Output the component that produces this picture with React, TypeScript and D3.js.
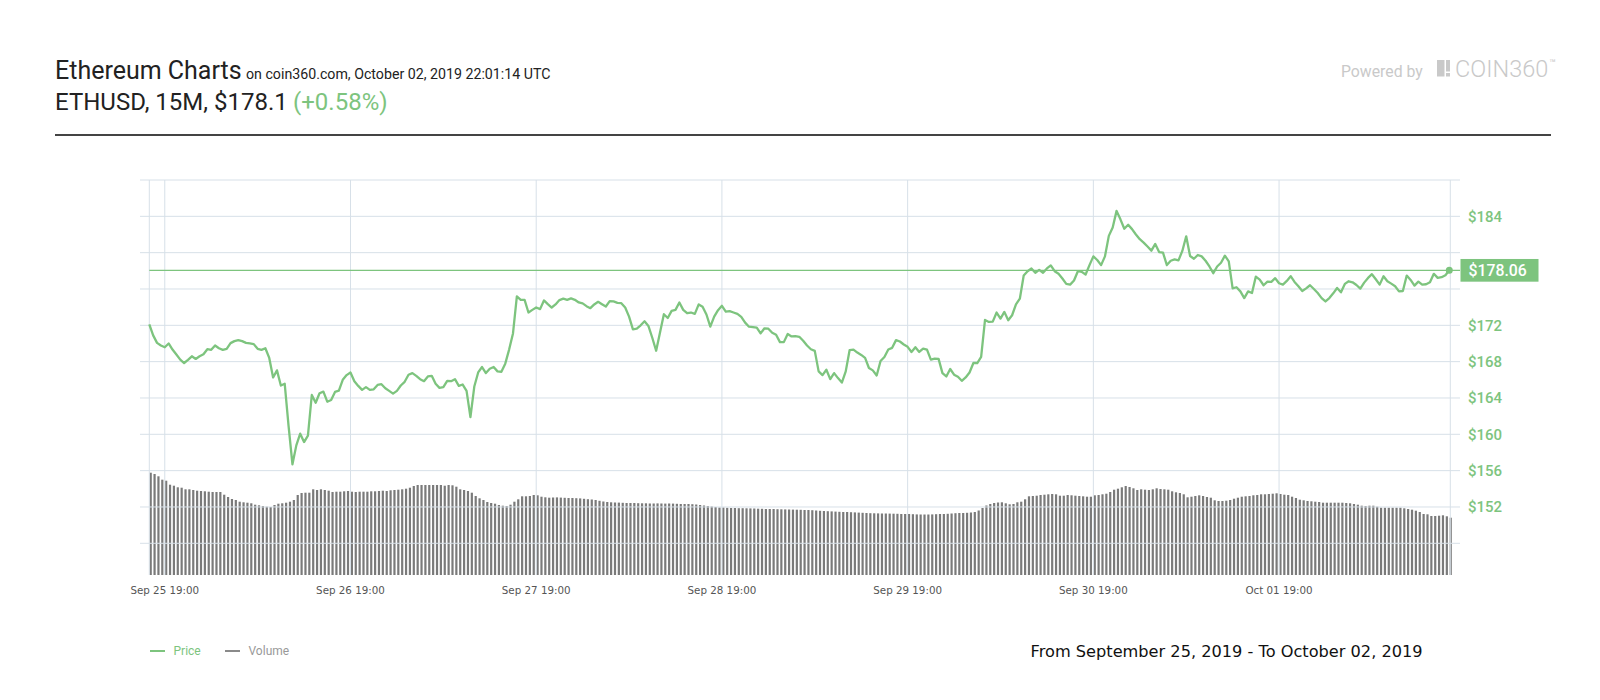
import React from 'react';
import * as d3 from 'd3';

// ETHUSD, one value every 30 minutes, Sep 25 17:00 -> Oct 02 17:00 (chart time)
const PRICE: number[] = [
  172.11, 170.89, 170.07, 169.78, 169.59, 170.0, 169.33, 168.78, 168.22, 167.85,
  168.19, 168.59, 168.3, 168.59, 168.81, 169.37, 169.3, 169.78, 169.48, 169.3,
  169.41, 170.04, 170.26, 170.37, 170.26, 170.07, 170.0, 169.93, 169.41, 169.3,
  169.48, 168.41, 166.26, 167.04, 165.37, 165.56, 160.89, 156.7, 158.78, 160.07,
  159.15, 159.85, 164.33, 163.48, 164.52, 164.7, 163.59, 163.78, 164.67, 164.81,
  166.0, 166.52, 166.8, 165.85, 165.33, 164.89, 165.19, 164.89, 164.96, 165.44,
  165.52, 165.07, 164.78, 164.48, 164.78, 165.37, 165.78, 166.56, 166.74, 166.44,
  166.07, 165.85, 166.37, 166.44, 165.56, 165.11, 165.19, 165.89, 165.85, 166.07,
  165.33, 165.48, 164.78, 161.9, 165.26, 166.81, 167.41, 166.74, 167.22, 167.41,
  166.93, 166.89, 167.78, 169.33, 171.11, 175.19, 174.81, 174.81, 173.41, 173.7,
  173.96, 173.78, 174.74, 174.33, 173.96, 174.3, 174.78, 174.93, 174.81, 174.96,
  174.81, 174.52, 174.41, 174.11, 173.89, 174.3, 174.59, 174.33, 174.07, 174.67,
  174.63, 174.48, 174.44, 173.96, 172.96, 171.56, 171.63, 172.0, 172.44, 171.93,
  170.63, 169.2, 171.2, 173.22, 172.81, 173.59, 173.7, 174.52, 173.7, 173.33,
  173.41, 173.26, 174.3, 174.04, 173.19, 171.85, 172.96, 173.67, 174.15, 173.5,
  173.56, 173.41, 173.26, 172.93, 172.3, 171.85, 171.81, 171.74, 171.11, 171.67,
  171.63, 171.19, 170.96, 170.15, 170.15, 171.04, 170.78, 170.81, 170.74, 170.3,
  169.78, 169.37, 169.19, 166.93, 166.52, 167.11, 166.07, 166.74, 166.19, 165.7,
  166.93, 169.26, 169.33, 169.0, 168.74, 168.41, 167.3, 167.04, 166.48, 168.07,
  168.52, 169.33, 169.52, 170.37, 170.22, 169.89, 169.63, 169.07, 169.59, 169.07,
  169.44, 169.33, 168.22, 168.33, 168.3, 166.74, 166.37, 167.19, 166.56, 166.33,
  165.89, 166.26, 166.81, 167.85, 167.85, 168.52, 172.59, 172.37, 172.41, 173.41,
  172.74, 173.48, 172.56, 173.11, 174.3, 174.93, 177.48, 177.96, 178.26, 177.78,
  178.11, 177.78, 178.26, 178.6, 177.96, 177.67, 177.15, 176.56, 176.48, 176.93,
  177.96, 177.89, 177.59, 178.63, 179.59, 179.19, 178.63, 179.59, 181.85, 182.78,
  184.6, 183.67, 182.63, 183.07, 182.59, 182.0, 181.48, 181.11, 180.67, 180.22,
  180.96, 180.07, 180.0, 178.63, 179.11, 179.26, 179.15, 180.19, 181.8, 179.63,
  179.33, 179.74, 179.59, 179.11, 178.48, 177.74, 178.48, 178.89, 179.67, 179.04,
  176.07, 176.19, 175.74, 175.0, 175.74, 175.56, 177.37, 177.04, 176.41, 176.81,
  176.78, 177.19, 176.63, 176.48, 176.89, 177.41, 176.78, 176.3, 175.78, 176.07,
  176.41, 176.0, 175.56, 175.0, 174.63, 175.0, 175.52, 176.11, 175.63, 176.56,
  176.85, 176.74, 176.44, 176.04, 176.7, 177.22, 177.63, 177.07, 176.48, 177.41,
  176.85, 176.59, 176.3, 175.74, 175.78, 177.48, 177.0, 176.37, 176.81, 176.48,
  176.52, 176.74, 177.67, 177.22, 177.3, 177.52, 178.06,
];

// volume per bar, same timestamps (relative units)
const VOLUME: number[] = [
  10.23, 10.1, 9.87, 9.53, 9.43, 9.03, 8.93, 8.77, 8.73, 8.57,
  8.57, 8.5, 8.43, 8.4, 8.37, 8.33, 8.3, 8.3, 8.3, 8.03,
  7.8, 7.6, 7.5, 7.33, 7.27, 7.23, 7.17, 7.03, 6.97, 6.9,
  6.83, 6.8, 7.0, 7.13, 7.17, 7.23, 7.33, 7.5, 8.0, 8.2,
  8.23, 8.23, 8.57, 8.5, 8.57, 8.5, 8.43, 8.3, 8.33, 8.33,
  8.37, 8.4, 8.33, 8.3, 8.33, 8.33, 8.33, 8.37, 8.37, 8.4,
  8.43, 8.4, 8.47, 8.5, 8.53, 8.57, 8.63, 8.73, 8.9, 9.0,
  9.0, 9.0, 9.0, 9.0, 9.0, 9.0, 8.93, 9.0, 8.97, 8.83,
  8.57, 8.5, 8.4, 8.23, 7.9, 7.67, 7.5, 7.3, 7.2, 7.13,
  7.0, 6.93, 6.9, 7.03, 7.33, 7.57, 7.87, 7.87, 7.9, 8.0,
  7.97, 7.83, 7.77, 7.73, 7.75, 7.76, 7.74, 7.72, 7.7, 7.7,
  7.68, 7.66, 7.62, 7.58, 7.55, 7.5, 7.42, 7.35, 7.3, 7.27,
  7.25, 7.24, 7.22, 7.2, 7.2, 7.2, 7.18, 7.17, 7.17, 7.15,
  7.15, 7.16, 7.15, 7.14, 7.15, 7.14, 7.12, 7.1, 7.1, 7.1,
  7.08, 7.05, 7.0, 6.95, 6.9, 6.85, 6.8, 6.75, 6.75, 6.72,
  6.7, 6.7, 6.68, 6.68, 6.67, 6.66, 6.65, 6.63, 6.62, 6.6,
  6.6, 6.6, 6.58, 6.57, 6.56, 6.55, 6.54, 6.53, 6.52, 6.5,
  6.5, 6.48, 6.45, 6.42, 6.4, 6.38, 6.36, 6.34, 6.32, 6.3,
  6.3, 6.28, 6.26, 6.24, 6.22, 6.2, 6.18, 6.17, 6.16, 6.15,
  6.15, 6.14, 6.13, 6.12, 6.1, 6.1, 6.1, 6.08, 6.06, 6.05,
  6.05, 6.05, 6.06, 6.08, 6.1, 6.1, 6.12, 6.15, 6.18, 6.2,
  6.2, 6.22, 6.25, 6.3, 6.45, 6.7, 6.95, 7.1, 7.2, 7.25,
  7.27, 7.17, 7.07, 7.1, 7.27, 7.33, 7.57, 7.87, 7.9, 7.93,
  8.0, 8.03, 8.07, 8.1, 8.07, 7.93, 7.93, 8.0, 7.97, 7.93,
  7.9, 7.87, 7.83, 7.83, 7.97, 8.0, 8.07, 8.13, 8.3, 8.53,
  8.63, 8.77, 8.9, 8.8, 8.67, 8.5, 8.57, 8.53, 8.5, 8.57,
  8.67, 8.6, 8.57, 8.53, 8.37, 8.27, 8.2, 8.07, 7.77, 7.83,
  7.9, 7.97, 7.9, 7.8, 7.73, 7.47, 7.4, 7.4, 7.43, 7.5,
  7.63, 7.73, 7.83, 7.87, 7.9, 7.97, 8.0, 8.07, 8.07, 8.1,
  8.13, 8.17, 8.1, 8.03, 8.0, 7.83, 7.7, 7.53, 7.47, 7.4,
  7.37, 7.33, 7.3, 7.23, 7.23, 7.23, 7.23, 7.23, 7.23, 7.2,
  7.17, 7.1, 7.03, 6.93, 6.9, 6.93, 6.93, 6.83, 6.73, 6.73,
  6.73, 6.73, 6.73, 6.73, 6.67, 6.6, 6.53, 6.43, 6.3, 6.1,
  6.07, 5.9, 5.9, 5.93, 5.97, 5.87, 5.73,
];

const START = Date.UTC(2019, 8, 25, 17, 0);
const END = Date.UTC(2019, 9, 2, 17, 0);
const STEP_MIN = 30;

const GRID_PRICES = [148, 152, 156, 160, 164, 168, 172, 176, 180, 184, 188];
const LABEL_PRICES = [152, 156, 160, 164, 168, 172, 184];
const DAY_TICKS = [
  Date.UTC(2019, 8, 25, 19), Date.UTC(2019, 8, 26, 19), Date.UTC(2019, 8, 27, 19),
  Date.UTC(2019, 8, 28, 19), Date.UTC(2019, 8, 29, 19), Date.UTC(2019, 8, 30, 19),
  Date.UTC(2019, 9, 1, 19),
];
const LAST_PRICE = 178.06;

const GREEN = '#7dc47e';
const GRID = '#d7e0e8';
const LOGO = '#c9c9c9';

const App: React.FC = () => {
  const left = 149.3, right = 1449.3, top = 180, bottom = 575;

  const x = d3.scaleUtc().domain([new Date(START), new Date(END)]).range([left, right]);
  const y = d3.scaleLinear().domain([144.51, 188]).range([bottom, top]);
  const yVol = d3.scaleLinear().domain([0, 39.5]).range([bottom, top]);

  const times = PRICE.map((_, i) => new Date(START + i * STEP_MIN * 60000));
  const line = d3.line<number>()
    .x((_, i) => x(times[i]))
    .y(d => y(d));

  const fmt = d3.utcFormat('%b %d %H:%M');
  const yLast = y(LAST_PRICE);

  return (
    <div style={{ position: 'fixed', left: 0, top: 0 }}>
      <svg width={1600} height={700} style={{ display: 'block', fontFamily: 'Roboto, sans-serif' }}>
        <rect width={1600} height={700} fill="#fff" />

        {/* header */}
        <text x={55} y={78.5} fontSize={25} fill="#222">Ethereum Charts</text>
        <text x={246} y={78.5} fontSize={14.2} fill="#222">on coin360.com, October 02, 2019 22:01:14 UTC</text>
        <text x={55} y={110} fontSize={24} fill="#222">ETHUSD, 15M, $178.1</text>
        <text x={293} y={110} fontSize={24} fill={GREEN}>(+0.58%)</text>
        <rect x={55} y={134} width={1496} height={2} fill="#444" />

        <text x={1341} y={77} fontSize={15.8} fill={LOGO}>Powered by</text>
        <rect x={1437} y={60} width={7.5} height={16.5} fill={LOGO} />
        <rect x={1446} y={60} width={4} height={11.5} fill={LOGO} />
        <rect x={1446} y={73} width={4} height={3.5} fill={LOGO} />
        <text x={1455} y={77} fontSize={23.5} fontWeight={300} fill={LOGO}>COIN360</text>
        <text x={1549} y={67} fontSize={11} fill={LOGO}>™</text>

        {/* volume bars */}
        <g fill="#7a7a7a">
          {VOLUME.map((v, i) => (
            <rect key={i} x={x(times[i]) + 0.3} y={yVol(v)} width={2.2} height={bottom - yVol(v)} />
          ))}
        </g>

        {/* grid */}
        <g stroke={GRID} strokeWidth={1}>
          {GRID_PRICES.map(p => (
            <line key={p} x1={140} x2={1460} y1={y(p)} y2={y(p)} />
          ))}
          <line x1={left} x2={left} y1={top} y2={bottom} />
          <line x1={right + 1} x2={right + 1} y1={top} y2={bottom} />
          {DAY_TICKS.map(t => (
            <line key={t} x1={x(new Date(t))} x2={x(new Date(t))} y1={top} y2={bottom} />
          ))}
        </g>

        {/* last price line */}
        <line x1={left} x2={1460} y1={yLast} y2={yLast} stroke={GREEN} strokeWidth={1.2} />

        {/* price line */}
        <path d={line(PRICE) || ''} fill="none" stroke={GREEN} strokeWidth={2.3} strokeLinejoin="round" />
        <circle cx={x(times[times.length - 1])} cy={yLast} r={3.5} fill={GREEN} />

        {/* y labels */}
        {LABEL_PRICES.map(p => (
          <text key={p} x={1468} y={y(p)} dy="0.36em" fontSize={15} fontWeight={500} fill={GREEN}>
            ${p}
          </text>
        ))}
        <rect x={1460.5} y={yLast - 11.3} width={78} height={22.7} fill={GREEN} />
        <text x={1468.5} y={yLast} dy="0.36em" fontSize={15.8} fontWeight={500} fill="#fff">
          ${LAST_PRICE.toFixed(2)}
        </text>

        {/* x labels */}
        {DAY_TICKS.map(t => (
          <text key={t} x={x(new Date(t))} y={594} textAnchor="middle" fontSize={10.3}
            fontFamily="'DejaVu Sans', sans-serif" fill="#555">
            {fmt(new Date(t))}
          </text>
        ))}

        {/* legend */}
        <line x1={150} x2={165} y1={651} y2={651} stroke={GREEN} strokeWidth={2} />
        <text x={173.5} y={655.2} fontSize={12} fill={GREEN}>Price</text>
        <line x1={225} x2={240} y1={651} y2={651} stroke="#8a8a8a" strokeWidth={2} />
        <text x={248.5} y={655.2} fontSize={12} fill="#999">Volume</text>

        <text x={1030.6} y={656.5} fontSize={15.5} fill="#111" fontFamily="'DejaVu Sans', sans-serif"
          textLength={392} lengthAdjust="spacingAndGlyphs">
          From September 25, 2019 - To October 02, 2019
        </text>
      </svg>
    </div>
  );
};

export default App;
